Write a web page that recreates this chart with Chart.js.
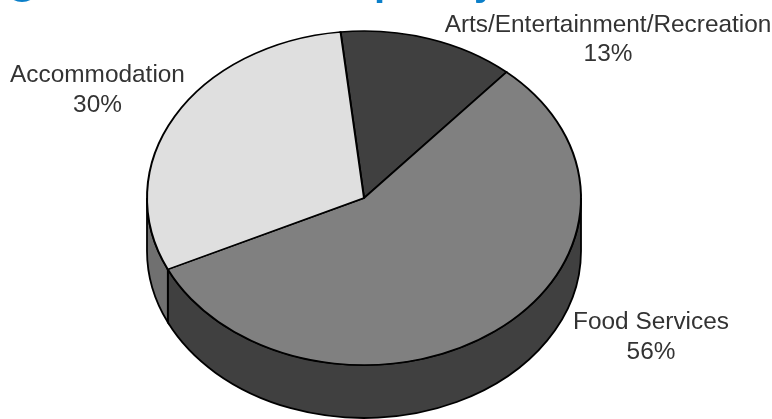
<!DOCTYPE html>
<html>
<head>
<meta charset="utf-8">
<style>
html,body{margin:0;padding:0;background:#fff}
#wrap{position:relative;width:772px;height:419px;overflow:hidden}
canvas{display:block}
</style>
<script src="https://cdn.jsdelivr.net/npm/chart.js@4/dist/chart.umd.min.js"></script>
</head>
<body>
<div id="wrap"><canvas id="c" width="772" height="419"></canvas></div>
<script>
const categories = ['Arts/Entertainment/Recreation', 'Food Services', 'Accommodation'];
const shares = [13, 56, 30];
const topColors = ['#404040', '#808080', '#dfdfdf'];
const wallColors = ['#262626', '#404040', '#707070'];
const labelAnchors = [[608, 25.5, 54], [651, 322, 352], [97.5, 75.5, 105]];
const labelFontSize = 24.4;
const headingGlyphs = [['p', 374], ['y', 474]];

const tilt = 167 / 217;   // vertical squash of the pie disc
const depth = 53;         // height of the cylinder wall

// Squashes the disc into an ellipse and paints the front wall beneath it.
const cylinder = {
  id: 'cylinder',
  beforeDatasetsDraw(chart) {
    const ctx = chart.ctx;
    const arcs = chart.getDatasetMeta(0).data;
    const two = Math.PI * 2;
    ctx.save();
    arcs.forEach((arc, i) => {
      const p = arc.getProps(['x', 'y', 'startAngle', 'endAngle', 'outerRadius'], true);
      const a0 = ((p.startAngle % two) + two) % two;
      const a1 = a0 + (p.endAngle - p.startAngle);
      // A slice faces the viewer only where it overlaps 0..PI, possibly after one full turn.
      [0, two].forEach(turn => {
        const s = Math.max(a0, turn), e = Math.min(a1, turn + Math.PI);
        if (e <= s) return;
        const rx = p.outerRadius, ry = rx * tilt;
        ctx.beginPath();
        ctx.ellipse(p.x, p.y, rx, ry, 0, s, e);
        ctx.ellipse(p.x, p.y + depth, rx, ry, 0, e, s, true);
        ctx.closePath();
        ctx.fillStyle = wallColors[i];
        ctx.fill();
        ctx.lineWidth = 1.8;
        ctx.strokeStyle = '#000';
        ctx.stroke();
      });
    });
    ctx.restore();
    const c = arcs[0];
    ctx.save();
    ctx.translate(c.x, c.y);
    ctx.scale(1, tilt);
    ctx.translate(-c.x, -c.y);
  },
  afterDatasetsDraw(chart) {
    chart.ctx.restore();
  },
  afterDraw(chart) {
    const ctx = chart.ctx;
    ctx.save();
    // Slice captions
    ctx.fillStyle = '#333333';
    ctx.font = labelFontSize + 'px "Liberation Sans", Arial, sans-serif';
    ctx.textAlign = 'center';
    ctx.textBaseline = 'middle';
    categories.forEach((name, i) => {
      const [x, y1, y2] = labelAnchors[i];
      ctx.fillText(name, x, y1);
      ctx.fillText(shares[i] + '%', x, y2);
    });
    // Heading band running off the top edge
    ctx.fillStyle = '#0b7fc9';
    ctx.font = 'bold 40px "Liberation Sans", Arial, sans-serif';
    ctx.textAlign = 'left';
    ctx.textBaseline = 'alphabetic';
    headingGlyphs.forEach(([glyph, x]) => ctx.fillText(glyph, x, -5));
    ctx.beginPath();
    ctx.ellipse(22, -12, 16, 14, 0, 0, Math.PI * 2);
    ctx.fill();
    ctx.restore();
  }
};

new Chart(document.getElementById('c'), {
  type: 'pie',
  data: {
    labels: categories,
    datasets: [{
      data: shares,
      backgroundColor: topColors,
      borderColor: '#000',
      borderWidth: 2,
      borderJoinStyle: 'miter',
      borderAlign: 'center',
      radius: 217,
      clip: false
    }]
  },
  options: {
    responsive: false,
    animation: false,
    rotation: -6.2,
    layout: { padding: { right: 44, bottom: 23 } },
    plugins: { legend: { display: false }, tooltip: { enabled: false }, title: { display: false } }
  },
  plugins: [cylinder]
});
</script>
</body>
</html>
